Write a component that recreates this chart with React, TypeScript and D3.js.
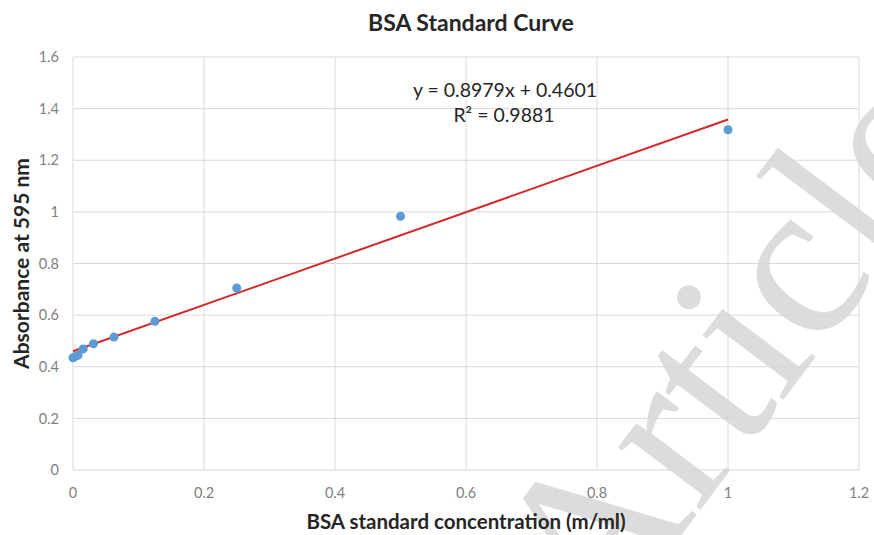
import React from "react";
import * as d3 from "d3";

const concentrations = [1, 0.5, 0.25, 0.125, 0.0625, 0.03125, 0.015625, 0.0078125, 0.00390625, 0];
const absorbances = [1.318, 0.983, 0.705, 0.576, 0.515, 0.489, 0.469, 0.445, 0.44, 0.435];
const xTicks = [0, 0.2, 0.4, 0.6, 0.8, 1, 1.2];
const yTicks = [0, 0.2, 0.4, 0.6, 0.8, 1, 1.2, 1.4, 1.6];
const slope = 0.8979;
const intercept = 0.4601;
const equationLabel = "y = 0.8979x + 0.4601";
const r2Label = "R² = 0.9881";

const W = 874, H = 535;
const m = { left: 73, right: 15, top: 57, bottom: 65 };
const FONT = "Lato, 'Open Sans', sans-serif";

export default function App() {
  const x = d3.scaleLinear().domain([0, 1.2]).range([m.left, W - m.right]);
  const y = d3.scaleLinear().domain([0, 1.6]).range([H - m.bottom, m.top]);
  const fmt = (v: number) => String(+v.toFixed(1));
  const line = d3.line<number>().x((d) => x(d)).y((d) => y(slope * d + intercept));

  return (
    <svg width={W} height={H} style={{ position: "absolute", left: 0, top: 0, background: "#fff" }}>
      <defs>
        <clipPath id="frame">
          <rect width={W} height={H} />
        </clipPath>
      </defs>
      <rect width={W} height={H} fill="#fff" />
      {/* gridlines */}
      {yTicks.map((t) => (
        <line key={"gy" + t} x1={x(0)} x2={x(1.2)} y1={y(t)} y2={y(t)} stroke="#d9d9d9" strokeWidth={1} />
      ))}
      {xTicks.map((t) => (
        <line key={"gx" + t} x1={x(t)} x2={x(t)} y1={y(0)} y2={y(1.6)} stroke="#d9d9d9" strokeWidth={1} />
      ))}
      {/* watermark */}
      <g clipPath="url(#frame)">
        <text
          transform="translate(600,643) rotate(-53)"
          fontFamily="'Liberation Serif', 'DejaVu Serif', serif"
          fontSize={225}
          fill="#d6d6d6"
          opacity={0.85}
        >
          Article
        </text>
      </g>
      {/* tick labels */}
      {yTicks.map((t) => (
        <text key={"ty" + t} x={x(0) - 14} y={y(t)} dy="0.36em" textAnchor="end" fontSize={14.5} fill="#808080" fontFamily={FONT}>
          {fmt(t)}
        </text>
      ))}
      {xTicks.map((t) => (
        <text key={"tx" + t} x={x(t)} y={y(0) + 28} textAnchor="middle" fontSize={14.5} fill="#808080" fontFamily={FONT}>
          {fmt(t)}
        </text>
      ))}
      {/* trendline */}
      <path d={line([0, 1]) || ""} stroke="#d42a2a" strokeWidth={2} fill="none" />
      {/* points */}
      {concentrations.map((c, i) => (
        <circle key={"p" + i} cx={x(c)} cy={y(absorbances[i])} r={4.5} fill="#5b9bd5" />
      ))}
      {/* equation */}
      <text x={505} y={97} textAnchor="middle" fontSize={19.5} fill="#262626" fontFamily={FONT}>
        {equationLabel}
      </text>
      <text x={504} y={122} textAnchor="middle" fontSize={19.5} fill="#262626" fontFamily={FONT}>
        {r2Label}
      </text>
      {/* title */}
      <text x={471} y={31} textAnchor="middle" fontSize={23} fontWeight="bold" fill="#262626" fontFamily={FONT}>
        BSA Standard Curve
      </text>
      {/* axis titles */}
      <text x={466} y={529} textAnchor="middle" fontSize={20.5} fontWeight="bold" fill="#262626" fontFamily={FONT}>
        BSA standard concentration (m/ml)
      </text>
      <text transform={`translate(29,${(y(0) + y(1.6)) / 2}) rotate(-90)`} textAnchor="middle" fontSize={21} fontWeight="bold" fill="#262626" fontFamily={FONT}>
        Absorbance at 595 nm
      </text>
    </svg>
  );
}
